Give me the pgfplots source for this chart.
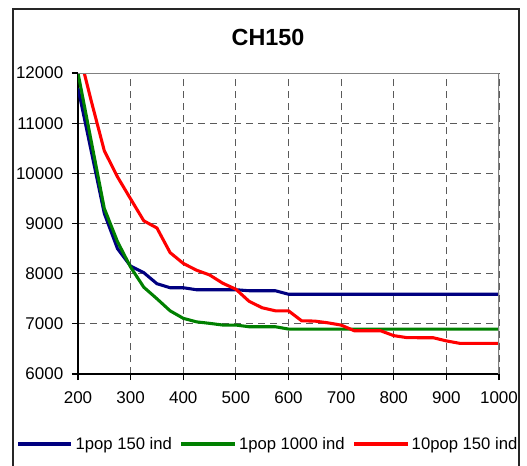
\documentclass[border=0pt]{standalone}
\usepackage{pgfplots}
\pgfplotsset{compat=1.18}
\usepackage{fontspec}
\setmainfont{Liberation Sans}
\definecolor{cblue}{RGB}{0,0,128}
\definecolor{cgreen}{RGB}{0,128,0}
\definecolor{cred}{RGB}{255,0,0}
\definecolor{gridc}{RGB}{90,90,90}
\newcommand{\px}{0.75pt}
\begin{document}
\begin{tikzpicture}
\begin{axis}[
  at={(0,0)}, anchor=south west,
  scale only axis,
  width=315.75pt, height=225.75pt,
  xmin=200, xmax=1000, ymin=6000, ymax=12000,
  xtick={200,300,...,1000},
  ytick={6000,7000,...,12000},
  scaled ticks=false,
  axis lines=left,
  axis line style={-, black, line width=1.1pt},
  tick align=outside,
  major tick length=4.5pt,
  tick style={black, line width=0.8pt},
  grid=major,
  major grid style={gridc, line width=0.7pt, dash pattern=on 5.5pt off 3.5pt},
  /pgf/number format/1000 sep={},
  /pgf/number format/assume math mode=true,
  tick label style={font=\fontsize{12.75}{15}\selectfont},
  yticklabel style={xshift=-3pt},
  xticklabel style={yshift=-5.5pt},
  legend columns=3,
  legend style={draw=none, fill=none, at={(axis description cs:0.452,-0.2326)}, anchor=center,
    font=\fontsize{12.5}{15}\selectfont,
    /tikz/every even column/.append style={column sep=4pt}},
  legend image code/.code={\draw[#1] (0pt,0pt) -- (40pt,0pt);},
  clip=true,
]
\addplot[cblue, line width=2.3pt] coordinates {
(200,11700)(225,10450)(250,9200)(275,8500)(300,8150)(325,8020)(350,7800)(375,7720)(400,7720)
(425,7680)(450,7680)(475,7680)(500,7680)(525,7660)(550,7660)(575,7660)(600,7590)(625,7590)
(650,7590)(675,7590)(700,7590)(725,7590)(750,7590)(775,7590)(800,7590)(825,7590)(850,7590)
(875,7590)(900,7590)(925,7590)(950,7590)(975,7590)(1000,7590)};
\addlegendentry{1pop 150 ind}
\addplot[cgreen, line width=2.3pt] coordinates {
(200,12000)(225,10650)(250,9300)(275,8640)(300,8130)(325,7730)(350,7500)(375,7260)(400,7110)
(425,7040)(450,7010)(475,6976)(500,6976)(525,6942)(550,6942)(575,6942)(600,6896)(625,6896)
(650,6896)(675,6896)(700,6896)(725,6896)(750,6896)(775,6896)(800,6896)(825,6896)(850,6896)
(875,6896)(900,6896)(925,6896)(950,6896)(975,6896)(1000,6896)};
\addlegendentry{1pop 1000 ind}
\addplot[cred, line width=2.3pt] coordinates {
(200,12500)(225,11450)(250,10450)(275,9930)(300,9490)(325,9054)(350,8910)(375,8420)(400,8205)
(425,8070)(450,7975)(475,7810)(500,7690)(525,7450)(550,7320)(575,7260)(600,7260)(625,7060)
(650,7055)(675,7020)(700,6975)(725,6862)(750,6862)(775,6862)(800,6765)(825,6725)(850,6723)
(875,6723)(900,6660)(925,6612)(950,6612)(975,6612)(1000,6612)};
\addlegendentry{10pop 150 ind}
\draw[gray, line width=1.2pt] (axis description cs:0,1) -- (axis description cs:1,1) -- (axis description cs:1,0);
\end{axis}
\node[font=\bfseries\fontsize{17.5}{20}\selectfont] at (190*\px,337*\px) {CH150};
\draw[black!85, line width=1.1pt] (-65*\px,-120*\px) -- (-65*\px,365*\px) -- (441*\px,365*\px) -- (441*\px,-120*\px);
\pgfresetboundingbox
\path[use as bounding box] (-78*\px,-91*\px) rectangle (449*\px,374*\px);
\end{tikzpicture}
\end{document}
